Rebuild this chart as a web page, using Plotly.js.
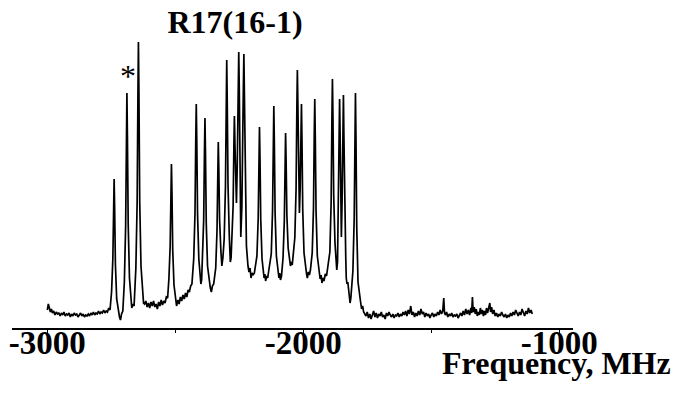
<!DOCTYPE html>
<html>
<head>
<meta charset="utf-8">
<script src="https://cdn.plot.ly/plotly-3.0.1.min.js"></script>
<style>html,body{margin:0;padding:0;background:#fff;}#chart{width:677px;height:394px;}</style>
</head>
<body>
<div id="chart"></div>
<script>
// Spectrum trace: frequency (MHz) and intensity (arb. units)
const spectrum = [
[-3000,18],[-2996,24],[-2992,20],[-2988,16],[-2984,19],[-2980,15],[-2975,17],[-2970,13],[-2965,16],[-2960,14],[-2955,15],[-2950,12],[-2945,15],[-2940,13],[-2935,16],[-2930,12],[-2925,14],[-2920,13],[-2915,15],[-2910,11],[-2905,14],[-2900,12],[-2895,15],[-2890,13],[-2885,14],[-2880,11],[-2875,13],[-2870,15],[-2865,12],[-2860,14],[-2855,11],[-2850,13],[-2845,12],[-2840,14],[-2835,12],[-2830,15],[-2825,13],[-2820,16],[-2815,13],[-2810,15],[-2805,14],[-2800,17],[-2795,14],[-2790,16],[-2785,15],[-2780,18],[-2775,15],[-2770,17],[-2765,16],[-2760,20],[-2755,18],
[-2749,36],[-2744,69],[-2741,123],[-2739,149],[-2737,121],[-2734,64],[-2729,29],[-2723,16],[-2718,11],[-2714,8],[-2710,14],
[-2705,17],[-2699,46],[-2694,101],[-2691,191],[-2689,235],[-2687,192],[-2684,104],[-2679,50],[-2674,28],[-2670,20],[-2666,24],[-2661,22],
[-2654,60],[-2649,126],[-2646,233],[-2644,286],[-2642,234],[-2639,127],[-2634,62],[-2628,32],[-2624,25],
[-2620,24],[-2615,27],[-2610,21],[-2605,25],[-2600,20],[-2595,26],[-2590,22],[-2585,27],[-2580,21],[-2575,24],[-2570,19],[-2565,26],[-2560,22],[-2555,28],[-2550,23],[-2545,27],[-2540,25],[-2535,31],[-2530,30],
[-2525,49],[-2520,82],[-2517,137],[-2515,164],[-2513,136],[-2510,78],[-2505,43],[-2499,28],[-2495,22],
[-2490,28],[-2485,24],[-2480,31],[-2475,27],[-2470,33],[-2465,29],[-2460,35],[-2455,31],[-2450,38],[-2445,36],[-2440,42],[-2435,44],
[-2428,69],[-2423,114],[-2420,188],[-2418,224],[-2416,188],[-2413,114],[-2408,69],[-2403,50],[-2400,44],[-2397,48],
[-2394,66],[-2389,108],[-2386,176],[-2384,210],[-2382,176],[-2379,105],[-2374,62],[-2368,46],[-2363,40],[-2359,36],[-2355,42],[-2350,44],
[-2342,60],[-2337,97],[-2334,157],[-2332,186],[-2330,161],[-2327,109],[-2322,78],[-2318,62],[-2314,70],
[-2309,89],[-2304,141],[-2301,226],[-2299,268],[-2297,227],[-2294,143],[-2289,92],[-2285,66],[-2282,70],
[-2279,86],[-2274,122],[-2271,183],[-2269,212],[-2267,185],[-2264,145],[-2261,125],
[-2258,160],[-2255,225],[-2252,276],[-2250,240],[-2247,150],[-2244,91],
[-2240,120],[-2236,175],[-2234,240],[-2232,274],[-2230,230],[-2227,138],[-2222,82],[-2216,62],[-2212,56],[-2208,60],[-2204,50],[-2200,55],[-2196,53],
[-2191,55],[-2181,72],[-2176,110],[-2173,171],[-2171,201],[-2169,170],[-2166,108],[-2161,69],[-2156,56],[-2153,50],[-2150,54],[-2147,47],[-2143,52],[-2139,50],[-2135,57],
[-2125,74],[-2120,117],[-2117,188],[-2115,222],[-2113,187],[-2110,115],[-2105,72],[-2099,57],[-2095,50],[-2092,55],[-2089,48],[-2085,52],
[-2079,70],[-2074,107],[-2071,166],[-2069,195],[-2067,168],[-2064,113],[-2059,80],[-2054,68],[-2050,62],[-2047,66],[-2043,63],
[-2033,90],[-2028,139],[-2025,219],[-2023,258],[-2021,225],[-2018,160],[-2015,115],
[-2012,140],[-2009,185],[-2007,224],[-2005,189],[-2002,118],[-1997,75],[-1991,60],[-1987,54],[-1984,50],[-1980,56],[-1976,53],[-1972,58],
[-1965,75],[-1960,120],[-1957,193],[-1955,229],[-1953,192],[-1950,117],[-1945,72],[-1939,55],[-1934,49],[-1930,53],[-1927,45],[-1923,50],[-1919,47],[-1914,54],[-1909,52],
[-1896,76],[-1891,126],[-1888,209],[-1886,249],[-1884,213],[-1881,133],[-1876,85],[-1872,64],[-1869,58],[-1866,66],
[-1863,125],[-1860,195],[-1858,229],[-1856,195],[-1854,130],[-1851,91],
[-1848,130],[-1845,195],[-1843,233],[-1841,190],[-1838,110],[-1834,72],[-1832,50],[-1829,44],[-1826,46],[-1823,37],[-1820,32],[-1817,25],[-1814,30],[-1811,40],
[-1806,57],[-1801,109],[-1798,194],[-1796,235],[-1794,191],[-1791,101],[-1786,46],[-1780,30],[-1776,26],[-1772,19],[-1768,22],[-1764,16],[-1760,14],
[-1755,12],[-1750,16],[-1745,10],[-1740,14],[-1735,9],[-1730,13],[-1725,17],[-1720,11],[-1715,15],[-1710,10],[-1705,14],[-1700,12],[-1695,16],[-1690,11],[-1685,13],[-1680,9],[-1675,15],[-1670,12],[-1665,16],[-1660,13],[-1655,11],[-1650,14],[-1645,10],[-1640,13],[-1635,12],[-1630,15],[-1625,11],[-1620,14],[-1615,12],[-1610,16],[-1605,13],[-1600,17],[-1595,12],[-1590,18],[-1585,14],[-1580,22],[-1575,13],[-1570,16],[-1565,11],[-1560,15],[-1555,12],[-1550,17],[-1545,13],[-1540,19],[-1535,14],[-1530,16],[-1525,11],[-1520,15],[-1515,12],[-1510,14],[-1505,10],[-1500,13],[-1495,15],[-1490,11],[-1485,14],[-1480,12],[-1475,16],[-1470,13],[-1465,18],[-1460,14],[-1455,17],[-1451,30],[-1448,15],[-1444,13],[-1440,16],[-1435,11],[-1430,14],[-1425,12],[-1420,15],[-1415,11],[-1410,13],[-1405,12],[-1400,14],[-1395,10],[-1390,13],[-1385,15],[-1380,12],[-1375,17],[-1370,13],[-1365,19],[-1360,14],[-1355,18],[-1350,13],[-1345,20],[-1342,15],[-1339,31],[-1336,16],[-1332,21],[-1328,14],[-1324,19],[-1320,12],[-1316,16],[-1312,13],[-1308,20],[-1304,14],[-1300,18],[-1296,12],[-1292,17],[-1288,13],[-1284,20],[-1280,15],[-1276,19],[-1271,25],[-1268,16],[-1264,21],[-1260,14],[-1255,18],[-1250,12],[-1245,15],[-1240,11],[-1235,14],[-1230,12],[-1225,16],[-1220,13],[-1215,11],[-1210,14],[-1205,10],[-1200,13],[-1195,11],[-1190,15],[-1185,12],[-1180,16],[-1175,13],[-1170,18],[-1165,14],[-1160,12],[-1155,16],[-1150,13],[-1145,19],[-1140,15],[-1135,12],[-1130,17],[-1125,14],[-1120,20],[-1115,15],[-1110,18],[-1105,14]
];
const frequency = spectrum.map(p => p[0]);
const intensity = spectrum.map(p => p[1]);

const tickValues = [-3000, -2000, -1000];
const tickLabels = ["-3000", "-2000", "-1000"];
const titleText = "R17(16-1)";
const xTitleText = "Frequency, MHz";
const markedPeak = {freq: -2684, value: 252, label: "*"};

const serif = "Liberation Serif, Times New Roman, serif";

const trace = {
  x: frequency, y: intensity, type: "scatter", mode: "lines",
  line: {color: "#000", width: 1.7}, hoverinfo: "skip"
};

const layout = {
  width: 677, height: 394,
  margin: {l: 12, r: 104, t: 28, b: 66},
  paper_bgcolor: "#fff", plot_bgcolor: "#fff",
  showlegend: false,
  title: {
    text: titleText,
    font: {family: serif, size: 32, weight: "bold", color: "#000"},
    xref: "paper", x: 0.3975, xanchor: "center",
    yref: "container", y: 0.944, yanchor: "middle"
  },
  xaxis: {
    range: [-3138, -946],
    tickvals: tickValues, ticktext: tickLabels,
    ticks: "outside", ticklen: 5, tickwidth: 1.2, tickcolor: "#000",
    ticklabelstandoff: -20,
    minor: {dtick: 500, tick0: -3000, ticks: "outside", ticklen: 3, tickwidth: 1, tickcolor: "#000"},
    showline: true, linecolor: "#000", linewidth: 1.5,
    showgrid: false, zeroline: false,
    tickfont: {family: serif, size: 33, weight: "bold", color: "#000"}
  },
  yaxis: {range: [0, 300], visible: false, showgrid: false, zeroline: false, fixedrange: true},
  annotations: [
    {x: markedPeak.freq, y: markedPeak.value, xref: "x", yref: "y", text: markedPeak.label,
     showarrow: false, font: {family: serif, size: 32, color: "#000"}, xanchor: "center", yanchor: "middle"},
    {x: 1.1783, y: -0.117, xref: "paper", yref: "paper", text: xTitleText, showarrow: false,
     xanchor: "right", yanchor: "middle",
     font: {family: serif, size: 32, weight: "bold", color: "#000"}}
  ]
};

Plotly.newPlot("chart", [trace], layout, {displayModeBar: false, staticPlot: true});
</script>
</body>
</html>
